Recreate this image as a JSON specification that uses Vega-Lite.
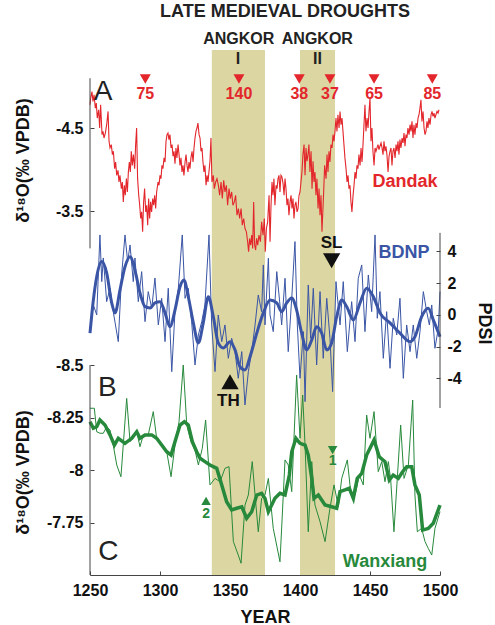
{
  "$schema": "https://vega.github.io/schema/vega-lite/v6.json",
  "width": 350,
  "height": 525,
  "autosize": {"type": "none"},
  "padding": {"left": 90, "top": 50, "right": 55, "bottom": 50},
  "background": "white",
  "config": {
    "font": "Liberation Sans",
    "view": {"stroke": null},
    "axis": {
      "domain": false, "grid": false, "tickSize": -4, "tickColor": "#444", "tickWidth": 1,
      "labelFont": "Liberation Sans", "labelFontSize": 16, "labelFontWeight": "bold", "labelColor": "#111", "labelPadding": 11,
      "titleFont": "Liberation Sans", "titleFontSize": 18, "titleFontWeight": "bold", "titleColor": "#111"
    },
    "text": {"font": "Liberation Sans", "baseline": "middle", "align": "center"}
  },
  "datasets": {
    "bands": [{"year": 1337, "year_end": 1375}, {"year": 1400, "year_end": 1425}],
    "droughts": [
      {"year": 1289.5, "d18O": -5.09, "years": "75"}, {"year": 1356.4, "d18O": -5.09, "years": "140"}, {"year": 1399.5, "d18O": -5.09, "years": "38"},
      {"year": 1421.4, "d18O": -5.09, "years": "37"}, {"year": 1452.9, "d18O": -5.09, "years": "65"}, {"year": 1494.5, "d18O": -5.09, "years": "85"}
    ],
    "dandak": [
      {"year":1250.0,"d18O":-4.78},{"year":1250.5,"d18O":-4.86},{"year":1251.4,"d18O":-4.94},{"year":1252.1,"d18O":-4.82},{"year":1252.9,"d18O":-4.90},{"year":1253.8,"d18O":-4.74},{"year":1254.5,"d18O":-4.80},{"year":1255.2,"d18O":-4.62},{"year":1256.2,"d18O":-4.72},{"year":1256.9,"d18O":-4.50},{"year":1257.6,"d18O":-4.78},{"year":1258.6,"d18O":-4.42},{"year":1259.3,"d18O":-4.46},{"year":1260.0,"d18O":-4.38},{"year":1261.0,"d18O":-4.44},{"year":1261.9,"d18O":-4.54},{"year":1262.9,"d18O":-4.70},{"year":1263.6,"d18O":-4.34},{"year":1264.3,"d18O":-4.26},{"year":1265.2,"d18O":-4.30},{"year":1266.0,"d18O":-4.18},{"year":1266.7,"d18O":-4.22},{"year":1267.6,"d18O":-4.01},{"year":1268.3,"d18O":-4.09},{"year":1269.1,"d18O":-3.93},{"year":1270.0,"d18O":-3.99},{"year":1270.7,"d18O":-3.85},{"year":1271.4,"d18O":-3.93},{"year":1272.4,"d18O":-3.77},{"year":1273.1,"d18O":-3.85},{"year":1273.8,"d18O":-3.61},{"year":1274.5,"d18O":-3.81},{"year":1275.2,"d18O":-3.69},{"year":1276.0,"d18O":-3.89},{"year":1276.7,"d18O":-3.73},{"year":1277.4,"d18O":-3.97},{"year":1278.1,"d18O":-4.09},{"year":1278.8,"d18O":-3.97},{"year":1279.5,"d18O":-4.22},{"year":1280.2,"d18O":-4.05},{"year":1281.0,"d18O":-4.18},{"year":1281.9,"d18O":-4.01},{"year":1282.6,"d18O":-4.30},{"year":1283.3,"d18O":-4.50},{"year":1284.0,"d18O":-3.89},{"year":1284.8,"d18O":-3.69},{"year":1285.5,"d18O":-3.57},{"year":1286.2,"d18O":-3.41},{"year":1286.9,"d18O":-3.49},{"year":1287.6,"d18O":-3.25},{"year":1288.3,"d18O":-3.61},{"year":1289.0,"d18O":-3.77},{"year":1289.8,"d18O":-3.49},{"year":1290.5,"d18O":-3.57},{"year":1291.2,"d18O":-3.33},{"year":1291.9,"d18O":-3.65},{"year":1292.6,"d18O":-3.41},{"year":1293.3,"d18O":-3.61},{"year":1294.0,"d18O":-3.49},{"year":1294.8,"d18O":-3.65},{"year":1295.5,"d18O":-3.57},{"year":1296.2,"d18O":-3.69},{"year":1296.9,"d18O":-3.53},{"year":1297.6,"d18O":-3.73},{"year":1298.6,"d18O":-3.85},{"year":1299.3,"d18O":-3.81},{"year":1300.0,"d18O":-3.93},{"year":1300.7,"d18O":-3.89},{"year":1301.4,"d18O":-4.05},{"year":1302.1,"d18O":-4.01},{"year":1302.9,"d18O":-4.14},{"year":1303.6,"d18O":-4.09},{"year":1304.3,"d18O":-4.34},{"year":1305.0,"d18O":-4.42},{"year":1305.7,"d18O":-4.44},{"year":1306.4,"d18O":-4.36},{"year":1307.1,"d18O":-4.42},{"year":1307.9,"d18O":-4.26},{"year":1308.6,"d18O":-4.30},{"year":1309.3,"d18O":-4.16},{"year":1310.0,"d18O":-4.22},{"year":1310.7,"d18O":-4.07},{"year":1311.4,"d18O":-4.26},{"year":1312.1,"d18O":-4.14},{"year":1312.9,"d18O":-4.30},{"year":1313.6,"d18O":-4.18},{"year":1314.3,"d18O":-4.05},{"year":1315.0,"d18O":-4.14},{"year":1315.7,"d18O":-3.97},{"year":1316.4,"d18O":-4.05},{"year":1317.1,"d18O":-3.93},{"year":1317.9,"d18O":-4.09},{"year":1318.6,"d18O":-4.18},{"year":1319.3,"d18O":-4.05},{"year":1320.0,"d18O":-3.97},{"year":1320.7,"d18O":-4.09},{"year":1321.4,"d18O":-4.01},{"year":1322.1,"d18O":-4.14},{"year":1322.9,"d18O":-4.22},{"year":1323.6,"d18O":-4.09},{"year":1324.3,"d18O":-4.26},{"year":1325.0,"d18O":-4.38},{"year":1325.7,"d18O":-4.46},{"year":1326.4,"d18O":-4.50},{"year":1327.1,"d18O":-4.56},{"year":1327.9,"d18O":-4.42},{"year":1328.6,"d18O":-4.38},{"year":1329.3,"d18O":-4.22},{"year":1330.0,"d18O":-4.26},{"year":1330.7,"d18O":-4.09},{"year":1331.4,"d18O":-3.97},{"year":1332.1,"d18O":-4.05},{"year":1332.9,"d18O":-3.81},{"year":1333.6,"d18O":-3.93},{"year":1334.3,"d18O":-3.85},{"year":1334.5,"d18O":-3.89},{"year":1335.7,"d18O":-4.10},{"year":1336.4,"d18O":-4.38},{"year":1337.1,"d18O":-3.85},{"year":1338.1,"d18O":-3.93},{"year":1338.8,"d18O":-3.77},{"year":1339.8,"d18O":-3.85},{"year":1340.7,"d18O":-3.89},{"year":1341.7,"d18O":-3.81},{"year":1342.6,"d18O":-3.69},{"year":1343.6,"d18O":-3.85},{"year":1344.5,"d18O":-3.65},{"year":1345.5,"d18O":-3.87},{"year":1346.4,"d18O":-3.73},{"year":1347.4,"d18O":-3.81},{"year":1348.3,"d18O":-3.57},{"year":1349.3,"d18O":-3.77},{"year":1350.2,"d18O":-3.65},{"year":1351.2,"d18O":-3.73},{"year":1352.1,"d18O":-3.57},{"year":1353.1,"d18O":-3.61},{"year":1354.0,"d18O":-3.69},{"year":1355.0,"d18O":-3.45},{"year":1356.0,"d18O":-3.53},{"year":1356.9,"d18O":-3.41},{"year":1357.9,"d18O":-3.53},{"year":1358.8,"d18O":-3.33},{"year":1359.8,"d18O":-3.41},{"year":1360.7,"d18O":-3.29},{"year":1361.7,"d18O":-3.25},{"year":1362.6,"d18O":-3.13},{"year":1363.3,"d18O":-3.01},{"year":1364.0,"d18O":-3.17},{"year":1364.8,"d18O":-3.09},{"year":1365.5,"d18O":-3.21},{"year":1366.2,"d18O":-3.05},{"year":1366.9,"d18O":-3.61},{"year":1367.6,"d18O":-3.09},{"year":1368.3,"d18O":-3.03},{"year":1369.0,"d18O":-3.17},{"year":1369.8,"d18O":-3.09},{"year":1370.7,"d18O":-3.21},{"year":1371.7,"d18O":-3.13},{"year":1372.6,"d18O":-3.37},{"year":1373.6,"d18O":-3.21},{"year":1374.5,"d18O":-3.41},{"year":1375.2,"d18O":-3.01},{"year":1376.0,"d18O":-3.29},{"year":1376.9,"d18O":-3.37},{"year":1377.9,"d18O":-3.69},{"year":1378.6,"d18O":-3.13},{"year":1379.3,"d18O":-3.57},{"year":1380.0,"d18O":-3.85},{"year":1380.7,"d18O":-3.69},{"year":1381.4,"d18O":-3.89},{"year":1382.1,"d18O":-3.57},{"year":1382.9,"d18O":-3.81},{"year":1383.6,"d18O":-3.77},{"year":1384.3,"d18O":-3.89},{"year":1385.0,"d18O":-3.93},{"year":1385.7,"d18O":-3.73},{"year":1386.4,"d18O":-3.93},{"year":1387.1,"d18O":-3.91},{"year":1387.9,"d18O":-3.83},{"year":1388.6,"d18O":-3.69},{"year":1389.3,"d18O":-3.89},{"year":1390.0,"d18O":-3.77},{"year":1390.7,"d18O":-3.57},{"year":1391.4,"d18O":-3.65},{"year":1392.1,"d18O":-3.45},{"year":1392.9,"d18O":-3.61},{"year":1393.6,"d18O":-3.69},{"year":1394.3,"d18O":-3.53},{"year":1395.0,"d18O":-3.65},{"year":1395.7,"d18O":-3.41},{"year":1396.4,"d18O":-3.57},{"year":1397.1,"d18O":-3.61},{"year":1397.9,"d18O":-3.49},{"year":1398.6,"d18O":-3.53},{"year":1399.3,"d18O":-3.69},{"year":1400.0,"d18O":-3.73},{"year":1400.7,"d18O":-3.85},{"year":1401.4,"d18O":-3.97},{"year":1402.1,"d18O":-4.18},{"year":1402.9,"d18O":-4.30},{"year":1403.6,"d18O":-3.93},{"year":1404.3,"d18O":-4.26},{"year":1405.0,"d18O":-4.10},{"year":1405.7,"d18O":-4.18},{"year":1406.4,"d18O":-4.30},{"year":1407.1,"d18O":-3.97},{"year":1407.9,"d18O":-4.22},{"year":1408.6,"d18O":-3.77},{"year":1409.3,"d18O":-4.10},{"year":1410.0,"d18O":-3.85},{"year":1410.7,"d18O":-3.97},{"year":1411.4,"d18O":-3.69},{"year":1412.1,"d18O":-3.89},{"year":1412.9,"d18O":-3.53},{"year":1413.6,"d18O":-3.77},{"year":1414.3,"d18O":-3.45},{"year":1415.0,"d18O":-3.69},{"year":1415.7,"d18O":-3.25},{"year":1416.9,"d18O":-3.73},{"year":1417.6,"d18O":-4.05},{"year":1418.6,"d18O":-3.89},{"year":1419.3,"d18O":-4.18},{"year":1420.0,"d18O":-3.97},{"year":1420.7,"d18O":-4.22},{"year":1421.4,"d18O":-4.09},{"year":1422.1,"d18O":-4.30},{"year":1422.9,"d18O":-4.26},{"year":1423.6,"d18O":-4.42},{"year":1424.3,"d18O":-4.34},{"year":1425.0,"d18O":-4.46},{"year":1425.7,"d18O":-4.62},{"year":1426.4,"d18O":-4.46},{"year":1427.1,"d18O":-4.66},{"year":1427.9,"d18O":-4.50},{"year":1428.6,"d18O":-4.70},{"year":1429.3,"d18O":-4.54},{"year":1430.0,"d18O":-4.62},{"year":1430.7,"d18O":-4.46},{"year":1431.4,"d18O":-4.30},{"year":1432.1,"d18O":-4.14},{"year":1432.9,"d18O":-4.01},{"year":1433.6,"d18O":-3.85},{"year":1434.3,"d18O":-3.93},{"year":1435.0,"d18O":-3.77},{"year":1435.7,"d18O":-3.81},{"year":1436.4,"d18O":-3.61},{"year":1437.1,"d18O":-3.49},{"year":1437.9,"d18O":-3.69},{"year":1438.6,"d18O":-3.81},{"year":1439.3,"d18O":-3.97},{"year":1440.0,"d18O":-3.89},{"year":1440.7,"d18O":-4.05},{"year":1441.4,"d18O":-4.01},{"year":1442.1,"d18O":-4.18},{"year":1442.9,"d18O":-4.05},{"year":1443.6,"d18O":-4.26},{"year":1444.3,"d18O":-4.09},{"year":1445.0,"d18O":-4.30},{"year":1445.7,"d18O":-4.54},{"year":1446.4,"d18O":-4.78},{"year":1447.1,"d18O":-4.46},{"year":1447.9,"d18O":-4.62},{"year":1448.6,"d18O":-4.50},{"year":1449.3,"d18O":-4.70},{"year":1450.0,"d18O":-4.86},{"year":1450.7,"d18O":-4.34},{"year":1451.4,"d18O":-4.50},{"year":1452.1,"d18O":-4.22},{"year":1452.9,"d18O":-4.05},{"year":1453.6,"d18O":-4.26},{"year":1454.3,"d18O":-4.22},{"year":1455.0,"d18O":-4.26},{"year":1455.7,"d18O":-4.30},{"year":1456.4,"d18O":-4.24},{"year":1457.1,"d18O":-4.28},{"year":1457.9,"d18O":-4.32},{"year":1458.6,"d18O":-4.26},{"year":1459.3,"d18O":-4.18},{"year":1460.0,"d18O":-4.34},{"year":1460.7,"d18O":-4.22},{"year":1461.4,"d18O":-4.28},{"year":1462.1,"d18O":-4.18},{"year":1462.9,"d18O":-3.97},{"year":1463.6,"d18O":-4.16},{"year":1464.3,"d18O":-4.22},{"year":1465.0,"d18O":-4.26},{"year":1465.7,"d18O":-4.05},{"year":1466.4,"d18O":-4.22},{"year":1467.1,"d18O":-4.26},{"year":1467.9,"d18O":-4.14},{"year":1468.6,"d18O":-4.30},{"year":1469.3,"d18O":-4.22},{"year":1470.0,"d18O":-4.34},{"year":1470.7,"d18O":-4.18},{"year":1471.4,"d18O":-4.36},{"year":1472.1,"d18O":-4.26},{"year":1472.9,"d18O":-4.38},{"year":1473.6,"d18O":-4.32},{"year":1474.3,"d18O":-4.44},{"year":1475.0,"d18O":-4.28},{"year":1475.7,"d18O":-4.42},{"year":1476.4,"d18O":-4.38},{"year":1477.1,"d18O":-4.50},{"year":1477.9,"d18O":-4.42},{"year":1478.6,"d18O":-4.54},{"year":1479.3,"d18O":-4.46},{"year":1480.0,"d18O":-4.58},{"year":1480.7,"d18O":-4.38},{"year":1481.4,"d18O":-4.54},{"year":1482.1,"d18O":-4.42},{"year":1482.9,"d18O":-4.56},{"year":1483.6,"d18O":-4.50},{"year":1484.3,"d18O":-4.62},{"year":1485.0,"d18O":-4.66},{"year":1485.7,"d18O":-4.74},{"year":1486.4,"d18O":-4.84},{"year":1487.1,"d18O":-4.58},{"year":1487.9,"d18O":-4.70},{"year":1488.6,"d18O":-4.50},{"year":1489.3,"d18O":-4.42},{"year":1490.0,"d18O":-4.46},{"year":1490.7,"d18O":-4.58},{"year":1491.4,"d18O":-4.50},{"year":1492.1,"d18O":-4.62},{"year":1492.9,"d18O":-4.54},{"year":1493.6,"d18O":-4.66},{"year":1494.3,"d18O":-4.70},{"year":1495.0,"d18O":-4.64},{"year":1495.7,"d18O":-4.68},{"year":1496.4,"d18O":-4.62},{"year":1497.1,"d18O":-4.66},{"year":1497.9,"d18O":-4.70},{"year":1498.6,"d18O":-4.68},{"year":1499.3,"d18O":-4.72}
    ],
    "bdnp": [
      {"year":1250.0,"pdsi":-1.05},{"year":1252.4,"pdsi":0.63},{"year":1254.8,"pdsi":0},{"year":1257.1,"pdsi":5.04},{"year":1258.4,"pdsi":2.10},{"year":1259.5,"pdsi":3.59},{"year":1261.9,"pdsi":0.84},{"year":1264.3,"pdsi":1.68},{"year":1266.6,"pdsi":0.21},{"year":1270.2,"pdsi":-1.68},{"year":1272.6,"pdsi":2.52},{"year":1275.0,"pdsi":5.04},{"year":1276.9,"pdsi":3.36},{"year":1278.6,"pdsi":4.41},{"year":1280.9,"pdsi":2.10},{"year":1282.1,"pdsi":3.59},{"year":1284.5,"pdsi":0.84},{"year":1286.9,"pdsi":2.73},{"year":1289.3,"pdsi":-0.42},{"year":1291.6,"pdsi":1.47},{"year":1294.1,"pdsi":0.42},{"year":1296.4,"pdsi":2.33},{"year":1298.8,"pdsi":-0.63},{"year":1301.2,"pdsi":1.05},{"year":1303.6,"pdsi":-1.68},{"year":1305.9,"pdsi":1.68},{"year":1308.4,"pdsi":-3.57},{"year":1310.7,"pdsi":0.21},{"year":1313.1,"pdsi":1.68},{"year":1315.9,"pdsi":5.04},{"year":1317.9,"pdsi":1.05},{"year":1320.2,"pdsi":1.68},{"year":1322.6,"pdsi":-0.42},{"year":1325.0,"pdsi":-3.15},{"year":1327.4,"pdsi":-1.26},{"year":1329.8,"pdsi":-0.42},{"year":1332.1,"pdsi":0.63},{"year":1335.0,"pdsi":5.04},{"year":1336.9,"pdsi":-0.63},{"year":1339.3,"pdsi":-3.57},{"year":1341.6,"pdsi":0},{"year":1344.1,"pdsi":-1.68},{"year":1346.4,"pdsi":-0.63},{"year":1348.8,"pdsi":-2.73},{"year":1351.2,"pdsi":-1.47},{"year":1353.6,"pdsi":-2.31},{"year":1355.9,"pdsi":-3.99},{"year":1358.4,"pdsi":-2.31},{"year":1360.7,"pdsi":-5.67},{"year":1363.1,"pdsi":-3.57},{"year":1365.5,"pdsi":-2.31},{"year":1367.9,"pdsi":-0.63},{"year":1370.2,"pdsi":1.26},{"year":1372.6,"pdsi":0.21},{"year":1373.8,"pdsi":3.15},{"year":1375.0,"pdsi":-0.63},{"year":1377.4,"pdsi":3.57},{"year":1378.6,"pdsi":0},{"year":1380.9,"pdsi":-1.05},{"year":1383.4,"pdsi":2.73},{"year":1385.7,"pdsi":0.63},{"year":1386.9,"pdsi":-0.63},{"year":1389.3,"pdsi":2.31},{"year":1391.6,"pdsi":-2.31},{"year":1394.1,"pdsi":1.05},{"year":1396.4,"pdsi":4.62},{"year":1398.1,"pdsi":-0.63},{"year":1400.0,"pdsi":-3.99},{"year":1402.4,"pdsi":-1.05},{"year":1403.6,"pdsi":-5.46},{"year":1405.9,"pdsi":1.89},{"year":1407.6,"pdsi":-1.47},{"year":1409.5,"pdsi":1.68},{"year":1411.9,"pdsi":-3.15},{"year":1414.3,"pdsi":1.47},{"year":1416.6,"pdsi":-2.73},{"year":1419.1,"pdsi":1.05},{"year":1421.4,"pdsi":-1.47},{"year":1423.3,"pdsi":-4.83},{"year":1425.7,"pdsi":2.10},{"year":1428.6,"pdsi":-0.63},{"year":1430.9,"pdsi":2.10},{"year":1433.8,"pdsi":-2.31},{"year":1436.9,"pdsi":0.84},{"year":1439.3,"pdsi":-1.68},{"year":1441.6,"pdsi":2.31},{"year":1444.1,"pdsi":3.15},{"year":1446.4,"pdsi":-1.05},{"year":1448.8,"pdsi":2.52},{"year":1451.2,"pdsi":0.21},{"year":1453.6,"pdsi":5.04},{"year":1455.2,"pdsi":-0.21},{"year":1457.1,"pdsi":1.47},{"year":1459.5,"pdsi":-2.73},{"year":1461.9,"pdsi":0.21},{"year":1464.3,"pdsi":-3.36},{"year":1466.6,"pdsi":-0.21},{"year":1469.1,"pdsi":-1.26},{"year":1471.4,"pdsi":1.05},{"year":1473.8,"pdsi":-3.99},{"year":1476.2,"pdsi":-0.63},{"year":1478.6,"pdsi":-2.31},{"year":1480.9,"pdsi":-0.63},{"year":1483.4,"pdsi":-2.73},{"year":1485.7,"pdsi":-1.05},{"year":1488.1,"pdsi":1.47},{"year":1490.5,"pdsi":0.21},{"year":1492.4,"pdsi":-0.63},{"year":1494.1,"pdsi":0.63},{"year":1496.4,"pdsi":-2.10},{"year":1498.8,"pdsi":-0.84},{"year":1500.0,"pdsi":1.47}
    ],
    "bdnp_smooth": [
      {"year":1250.0,"pdsi":-1.15},{"year":1252.4,"pdsi":0.94},{"year":1254.8,"pdsi":2.41},{"year":1258.4,"pdsi":3.36},{"year":1261.9,"pdsi":2.65},{"year":1265.5,"pdsi":0.76},{"year":1267.9,"pdsi":0.13},{"year":1271.4,"pdsi":1.57},{"year":1275.0,"pdsi":3.04},{"year":1278.6,"pdsi":3.67},{"year":1282.1,"pdsi":2.83},{"year":1285.7,"pdsi":1.39},{"year":1289.3,"pdsi":0.52},{"year":1292.9,"pdsi":0.44},{"year":1296.4,"pdsi":0.76},{"year":1300.0,"pdsi":0.84},{"year":1303.6,"pdsi":0.13},{"year":1307.1,"pdsi":-0.74},{"year":1310.7,"pdsi":0.31},{"year":1314.3,"pdsi":1.78},{"year":1317.1,"pdsi":2.20},{"year":1320.2,"pdsi":1.15},{"year":1323.8,"pdsi":-0.50},{"year":1327.4,"pdsi":-1.76},{"year":1330.9,"pdsi":-0.50},{"year":1334.5,"pdsi":1.15},{"year":1338.1,"pdsi":-0.11},{"year":1341.6,"pdsi":-1.76},{"year":1345.2,"pdsi":-2.08},{"year":1350.0,"pdsi":-1.68},{"year":1353.6,"pdsi":-2.20},{"year":1357.1,"pdsi":-3.26},{"year":1360.7,"pdsi":-3.46},{"year":1364.3,"pdsi":-2.63},{"year":1369.1,"pdsi":-1.15},{"year":1373.8,"pdsi":0.13},{"year":1378.6,"pdsi":0.94},{"year":1383.4,"pdsi":0.76},{"year":1386.9,"pdsi":0.21},{"year":1390.5,"pdsi":0.76},{"year":1394.1,"pdsi":1.07},{"year":1397.6,"pdsi":0.31},{"year":1401.2,"pdsi":-1.15},{"year":1404.8,"pdsi":-2.20},{"year":1408.4,"pdsi":-1.57},{"year":1411.9,"pdsi":-0.74},{"year":1415.5,"pdsi":-1.15},{"year":1419.1,"pdsi":-2.20},{"year":1422.6,"pdsi":-1.76},{"year":1426.2,"pdsi":-0.11},{"year":1429.8,"pdsi":0.94},{"year":1433.4,"pdsi":0.52},{"year":1438.1,"pdsi":-0.31},{"year":1442.9,"pdsi":0.76},{"year":1447.6,"pdsi":1.68},{"year":1452.4,"pdsi":1.15},{"year":1457.1,"pdsi":0.13},{"year":1464.3,"pdsi":-0.50},{"year":1471.4,"pdsi":-1.15},{"year":1478.6,"pdsi":-1.68},{"year":1482.1,"pdsi":-1.37},{"year":1486.9,"pdsi":-0.11},{"year":1491.6,"pdsi":0.42},{"year":1495.2,"pdsi":-0.31},{"year":1500.0,"pdsi":-1.37}
    ],
    "wanxiang": [
      {"year":1250.0,"d18O":-8.294},{"year":1253.1,"d18O":-8.294},{"year":1254.8,"d18O":-8.182},{"year":1257.1,"d18O":-8.175},{"year":1259.5,"d18O":-8.175},{"year":1261.9,"d18O":-8.206},{"year":1264.3,"d18O":-8.190},{"year":1266.6,"d18O":-8.119},{"year":1269.1,"d18O":-8.024},{"year":1272.1,"d18O":-7.968},{"year":1276.2,"d18O":-8.341},{"year":1278.6,"d18O":-8.135},{"year":1280.9,"d18O":-8.151},{"year":1283.4,"d18O":-8.182},{"year":1285.7,"d18O":-8.111},{"year":1288.1,"d18O":-8.167},{"year":1291.6,"d18O":-8.167},{"year":1295.2,"d18O":-8.278},{"year":1297.6,"d18O":-8.151},{"year":1301.2,"d18O":-8.119},{"year":1304.8,"d18O":-8.087},{"year":1307.9,"d18O":-7.968},{"year":1310.7,"d18O":-8.119},{"year":1313.6,"d18O":-8.230},{"year":1316.6,"d18O":-8.500},{"year":1319.1,"d18O":-8.214},{"year":1322.1,"d18O":-8.135},{"year":1325.0,"d18O":-8.095},{"year":1327.4,"d18O":-8.024},{"year":1330.2,"d18O":-8.103},{"year":1332.6,"d18O":-8.238},{"year":1335.7,"d18O":-7.929},{"year":1339.3,"d18O":-7.960},{"year":1342.9,"d18O":-7.944},{"year":1346.4,"d18O":-8.008},{"year":1349.3,"d18O":-8.016},{"year":1352.4,"d18O":-7.659},{"year":1355.9,"d18O":-7.595},{"year":1357.9,"d18O":-7.556},{"year":1360.7,"d18O":-7.833},{"year":1363.1,"d18O":-7.881},{"year":1365.9,"d18O":-8.040},{"year":1367.9,"d18O":-7.881},{"year":1370.2,"d18O":-7.706},{"year":1372.6,"d18O":-7.865},{"year":1375.0,"d18O":-7.881},{"year":1377.4,"d18O":-7.960},{"year":1380.9,"d18O":-7.722},{"year":1385.7,"d18O":-7.563},{"year":1389.3,"d18O":-8.048},{"year":1391.6,"d18O":-8.024},{"year":1394.1,"d18O":-7.897},{"year":1397.6,"d18O":-8.452},{"year":1400.0,"d18O":-8.151},{"year":1401.9,"d18O":-8.357},{"year":1403.6,"d18O":-8.119},{"year":1405.9,"d18O":-7.706},{"year":1408.4,"d18O":-8.040},{"year":1410.7,"d18O":-7.833},{"year":1414.3,"d18O":-7.754},{"year":1417.9,"d18O":-7.659},{"year":1421.4,"d18O":-7.818},{"year":1424.3,"d18O":-7.929},{"year":1427.4,"d18O":-7.825},{"year":1429.8,"d18O":-7.960},{"year":1433.8,"d18O":-8.048},{"year":1436.2,"d18O":-7.897},{"year":1439.3,"d18O":-7.881},{"year":1442.4,"d18O":-7.976},{"year":1445.2,"d18O":-7.929},{"year":1447.6,"d18O":-8.262},{"year":1450.0,"d18O":-8.151},{"year":1452.9,"d18O":-8.278},{"year":1455.9,"d18O":-7.992},{"year":1458.4,"d18O":-8.040},{"year":1460.7,"d18O":-7.944},{"year":1463.1,"d18O":-8.040},{"year":1464.8,"d18O":-7.952},{"year":1467.1,"d18O":-7.706},{"year":1469.5,"d18O":-7.960},{"year":1471.9,"d18O":-8.214},{"year":1474.3,"d18O":-7.960},{"year":1477.4,"d18O":-8.024},{"year":1480.5,"d18O":-8.333},{"year":1482.1,"d18O":-7.881},{"year":1483.8,"d18O":-7.706},{"year":1486.9,"d18O":-7.722},{"year":1489.3,"d18O":-7.659},{"year":1491.6,"d18O":-7.627},{"year":1494.1,"d18O":-7.595},{"year":1496.4,"d18O":-7.722},{"year":1500.0,"d18O":-7.802}
    ],
    "wanxiang_smooth": [
      {"year":1250.0,"d18O":-8.230},{"year":1252.4,"d18O":-8.199},{"year":1254.8,"d18O":-8.206},{"year":1257.1,"d18O":-8.238},{"year":1260.7,"d18O":-8.214},{"year":1264.3,"d18O":-8.167},{"year":1267.4,"d18O":-8.119},{"year":1270.2,"d18O":-8.151},{"year":1275.0,"d18O":-8.127},{"year":1279.8,"d18O":-8.151},{"year":1283.4,"d18O":-8.182},{"year":1285.7,"d18O":-8.151},{"year":1289.3,"d18O":-8.167},{"year":1294.1,"d18O":-8.167},{"year":1297.6,"d18O":-8.151},{"year":1301.2,"d18O":-8.119},{"year":1304.8,"d18O":-8.087},{"year":1307.9,"d18O":-8.071},{"year":1310.7,"d18O":-8.135},{"year":1314.3,"d18O":-8.214},{"year":1317.4,"d18O":-8.230},{"year":1320.2,"d18O":-8.214},{"year":1323.1,"d18O":-8.135},{"year":1326.2,"d18O":-8.087},{"year":1328.6,"d18O":-8.056},{"year":1332.1,"d18O":-8.040},{"year":1335.7,"d18O":-8.024},{"year":1340.5,"d18O":-8.008},{"year":1344.1,"d18O":-7.929},{"year":1347.6,"d18O":-7.849},{"year":1351.2,"d18O":-7.810},{"year":1354.8,"d18O":-7.818},{"year":1358.4,"d18O":-7.825},{"year":1361.9,"d18O":-7.770},{"year":1365.5,"d18O":-7.801},{"year":1369.1,"d18O":-7.881},{"year":1372.6,"d18O":-7.889},{"year":1375.0,"d18O":-7.865},{"year":1377.4,"d18O":-7.801},{"year":1382.1,"d18O":-7.865},{"year":1385.7,"d18O":-7.889},{"year":1389.3,"d18O":-7.881},{"year":1392.4,"d18O":-7.976},{"year":1394.1,"d18O":-8.087},{"year":1397.1,"d18O":-8.151},{"year":1400.0,"d18O":-8.127},{"year":1403.6,"d18O":-8.119},{"year":1405.9,"d18O":-8.071},{"year":1408.4,"d18O":-7.960},{"year":1410.0,"d18O":-7.865},{"year":1413.1,"d18O":-7.881},{"year":1417.9,"d18O":-7.833},{"year":1422.6,"d18O":-7.825},{"year":1426.2,"d18O":-7.818},{"year":1428.6,"d18O":-7.897},{"year":1432.1,"d18O":-7.905},{"year":1435.2,"d18O":-7.913},{"year":1438.1,"d18O":-7.865},{"year":1440.9,"d18O":-7.960},{"year":1444.1,"d18O":-7.984},{"year":1447.6,"d18O":-8.071},{"year":1452.9,"d18O":-8.143},{"year":1456.6,"d18O":-8.063},{"year":1460.7,"d18O":-8.040},{"year":1463.8,"d18O":-7.952},{"year":1466.6,"d18O":-7.976},{"year":1470.2,"d18O":-7.960},{"year":1473.3,"d18O":-7.992},{"year":1476.2,"d18O":-8.016},{"year":1479.8,"d18O":-8.016},{"year":1482.1,"d18O":-7.929},{"year":1485.2,"d18O":-7.881},{"year":1487.6,"d18O":-7.714},{"year":1491.6,"d18O":-7.722},{"year":1495.2,"d18O":-7.746},{"year":1500.0,"d18O":-7.833}
    ]
  },
  "encoding": {
    "x": {
      "field": "year", "type": "quantitative",
      "scale": {"domain": [1250, 1500], "nice": false, "zero": false},
      "axis": {"title": "YEAR", "values": [1250, 1300, 1350, 1400, 1450, 1500], "format": "d", "domain": true, "domainColor": "#444", "labelFlush": false, "titleY": 47, "titleBaseline": "alphabetic"}
    }
  },
  "layer": [
    {
      "data": {"name": "bands"},
      "mark": {"type": "rect", "color": "#dcd6a3", "opacity": 1},
      "encoding": {"x2": {"field": "year_end"}}
    },
    {
      "encoding": {
        "y": {"field": "d18O", "type": "quantitative",
          "scale": {"domain": [-5.44, 0.885], "reverse": true, "nice": false, "zero": false},
          "axis": {"orient": "left", "values": [-4.5, -3.5], "labelExpr": "'' + datum.value", "title": "δ¹⁸O(‰ VPDB)", "titleX": -67, "titleY": 110, "titleAngle": -90, "titleBaseline": "middle", "titleAlign": "center"}}
      },
      "layer": [
        {
          "data": {"name": "dandak"},
          "mark": {"type": "line", "color": "#e3262b", "strokeWidth": 1.1}
        },
        {
          "data": {"values": [{"year": 1250, "d18O": -5.1, "d18O_end": -3.05}]},
          "mark": {"type": "rule", "color": "#444", "strokeWidth": 1},
          "encoding": {"y2": {"field": "d18O_end"}}
        },
        {
          "data": {"name": "droughts"},
          "mark": {"type": "point", "shape": "triangle-down", "filled": true, "size": 120, "color": "#e3262b", "opacity": 1}
        },
        {
          "data": {"name": "droughts"},
          "mark": {"type": "text", "fontSize": 16, "fontWeight": "bold", "color": "#e3262b", "dy": 15},
          "encoding": {"text": {"field": "years"}}
        },
        {
          "data": {"values": [{"year": 1389.3, "d18O": -5.892, "label": "LATE MEDIEVAL DROUGHTS"}]},
          "mark": {"type": "text", "fontSize": 18, "fontWeight": "bold", "color": "#222"},
          "encoding": {"text": {"field": "label"}}
        },
        {
          "data": {"values": [{"year": 1356.2, "d18O": -5.573, "label": "ANGKOR"}, {"year": 1412.4, "d18O": -5.573, "label": "ANGKOR"}]},
          "mark": {"type": "text", "fontSize": 16, "fontWeight": "bold", "color": "#222"},
          "encoding": {"text": {"field": "label"}}
        },
        {
          "data": {"values": [{"year": 1355.7, "d18O": -5.335, "label": "I"}, {"year": 1412.5, "d18O": -5.335, "label": "II"}]},
          "mark": {"type": "text", "fontSize": 16, "fontWeight": "bold", "color": "#222"},
          "encoding": {"text": {"field": "label"}}
        },
        {
          "data": {"values": [{"year": 1259.3, "d18O": -4.934, "label": "A"}]},
          "mark": {"type": "text", "fontSize": 28, "color": "#222"},
          "encoding": {"text": {"field": "label"}}
        },
        {
          "data": {"values": [{"year": 1475, "d18O": -3.853, "label": "Dandak"}]},
          "mark": {"type": "text", "fontSize": 18, "fontWeight": "bold", "color": "#e3262b"},
          "encoding": {"text": {"field": "label"}}
        }
      ]
    },
    {
      "encoding": {
        "y": {"field": "pdsi", "type": "quantitative",
          "scale": {"domain": [-16.38, 16.69], "nice": false, "zero": false},
          "axis": {"orient": "right", "values": [-4, -2, 0, 2, 4], "labelExpr": "'' + datum.value", "title": "PDSI", "titleX": 43, "titleY": 273, "titleAngle": 90, "titleBaseline": "middle", "titleAlign": "center"}}
      },
      "layer": [
        {
          "data": {"name": "bdnp"},
          "mark": {"type": "line", "color": "#3a55a5", "strokeWidth": 1}
        },
        {
          "data": {"name": "bdnp_smooth"},
          "mark": {"type": "line", "color": "#3a55a5", "strokeWidth": 3, "interpolate": "monotone"}
        },
        {
          "data": {"values": [{"year": 1500, "pdsi": 5.17, "pdsi_end": -5.86}]},
          "mark": {"type": "rule", "color": "#444", "strokeWidth": 1},
          "encoding": {"y2": {"field": "pdsi_end"}}
        },
        {
          "data": {"values": [{"year": 1474.3, "pdsi": 3.92, "label": "BDNP"}]},
          "mark": {"type": "text", "fontSize": 18, "fontWeight": "bold", "color": "#3a55a5"},
          "encoding": {"text": {"field": "label"}}
        },
        {
          "data": {"values": [{"year": 1422.6, "pdsi": 4.52, "label": "SL"}, {"year": 1348.8, "pdsi": -5.40, "label": "TH"}]},
          "mark": {"type": "text", "fontSize": 17, "fontWeight": "bold", "color": "#111"},
          "encoding": {"text": {"field": "label"}}
        },
        {
          "data": {"values": [{"year": 1422.6, "pdsi": 3.42}]},
          "mark": {"type": "point", "shape": "triangle-down", "filled": true, "size": 300, "color": "#111", "opacity": 1}
        },
        {
          "data": {"values": [{"year": 1350, "pdsi": -4.20}]},
          "mark": {"type": "point", "shape": "triangle-up", "filled": true, "size": 300, "color": "#111", "opacity": 1}
        },
        {
          "data": {"values": [{"year": 1262.4, "pdsi": -4.62, "label": "B"}]},
          "mark": {"type": "text", "fontSize": 28, "color": "#222"},
          "encoding": {"text": {"field": "label"}}
        }
      ]
    },
    {
      "encoding": {
        "y": {"field": "d18O", "type": "quantitative",
          "scale": {"domain": [-10, -7.5], "reverse": true, "nice": false, "zero": false},
          "axis": {"orient": "left", "values": [-8.5, -8.25, -8, -7.75], "labelExpr": "'' + datum.value", "title": "δ¹⁸O(‰ VPDB)", "titleX": -67, "titleY": 422, "titleAngle": -90, "titleBaseline": "middle", "titleAlign": "center"}}
      },
      "layer": [
        {
          "data": {"name": "wanxiang"},
          "mark": {"type": "line", "color": "#27893b", "strokeWidth": 1}
        },
        {
          "data": {"name": "wanxiang_smooth"},
          "mark": {"type": "line", "color": "#27893b", "strokeWidth": 3.5}
        },
        {
          "data": {"values": [{"year": 1250, "d18O": -8.5, "d18O_end": -7.5}]},
          "mark": {"type": "rule", "color": "#444", "strokeWidth": 1},
          "encoding": {"y2": {"field": "d18O_end"}}
        },
        {
          "data": {"values": [{"year": 1263.1, "d18O": -7.611, "label": "C"}]},
          "mark": {"type": "text", "fontSize": 28, "color": "#222"},
          "encoding": {"text": {"field": "label"}}
        },
        {
          "data": {"values": [{"year": 1460.7, "d18O": -7.563, "label": "Wanxiang"}]},
          "mark": {"type": "text", "fontSize": 18, "fontWeight": "bold", "color": "#27893b"},
          "encoding": {"text": {"field": "label"}}
        },
        {
          "data": {"values": [{"year": 1423.3, "d18O": -8.095}]},
          "mark": {"type": "point", "shape": "triangle-down", "filled": true, "size": 90, "color": "#27893b", "opacity": 1}
        },
        {
          "data": {"values": [{"year": 1332.9, "d18O": -7.853}]},
          "mark": {"type": "point", "shape": "triangle-up", "filled": true, "size": 90, "color": "#27893b", "opacity": 1}
        },
        {
          "data": {"values": [{"year": 1423.3, "d18O": -8.044, "label": "1"}, {"year": 1332.9, "d18O": -7.790, "label": "2"}]},
          "mark": {"type": "text", "fontSize": 14, "fontWeight": "bold", "color": "#27893b"},
          "encoding": {"text": {"field": "label"}}
        }
      ]
    }
  ],
  "resolve": {"scale": {"y": "independent"}, "axis": {"y": "independent"}}
}
